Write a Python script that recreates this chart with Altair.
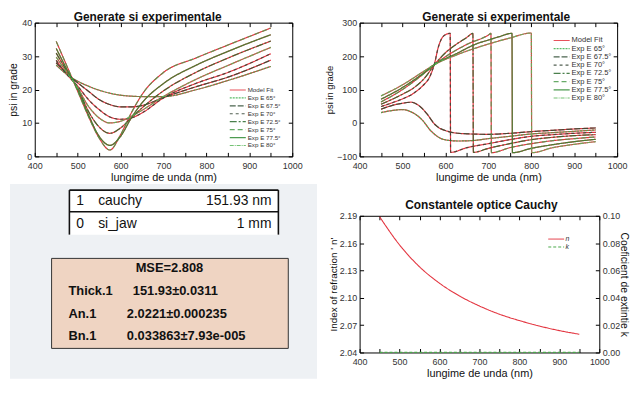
import altair as alt
import pandas as pd

FONT = "Liberation Sans"

# ---------------- data ----------------
angles = ["65°", "67.5°", "70°", "72.5°", "75°", "77.5°", "80°"]
fit_name = "Model Fit"
exp_names = ["Exp E " + a for a in angles]

# psi (top-left)
psi_wl = [450, 475, 500, 525, 550, 575, 600, 625, 650, 700, 775, 850, 950]
psi_65 = [27.3, 24.5, 22.5, 21.0, 19.8, 18.9, 18.3, 18.0, 17.9, 17.9, 19.9, 22.7, 26.9]
psi_67_5 = [28.0, 24.8, 22.0, 19.5, 17.0, 15.5, 14.8, 14.8, 15.2, 17.6, 20.8, 23.7, 28.8]
psi_70 = [28.7, 24.5, 21.0, 17.0, 14.0, 11.8, 11.1, 11.5, 13.0, 17.5, 21.8, 25.1, 30.7]
psi_72_5 = [30.9, 25.5, 20.5, 13.5, 8.8, 6.9, 8.5, 11.5, 14.5, 19.6, 25.1, 29.4, 34.5]
psi_75 = [34.4, 27.0, 19.5, 12.0, 5.5, 1.9, 6.5, 13.0, 18.5, 25.1, 29.4, 33.3, 38.4]
psi_77_5 = [32.3, 26.0, 20.0, 12.5, 6.0, 3.3, 6.0, 11.5, 16.0, 21.8, 27.2, 31.4, 36.4]
psi_80 = [29.7, 25.0, 20.5, 15.0, 11.5, 10.0, 10.5, 12.0, 13.8, 17.9, 23.0, 27.2, 32.6]
psi_series = [psi_65, psi_67_5, psi_70, psi_72_5, psi_75, psi_77_5, psi_80]

# delta (top-right)
d65_wl = [450, 475, 500, 520, 545, 567, 598, 630, 660, 700, 750, 800, 850, 900, 950]
d65 = [31, 37, 40, 33, 10, -25, -50, -54, -53, -47, -40, -33, -29, -25, -21]
d67_5_wl = [450, 475, 500, 520, 540, 557, 575, 605, 640, 700, 750, 800, 850, 900, 950]
d67_5 = [41, 52, 59, 62, 50, 27, -4, -25, -32, -34, -31, -26, -22, -18, -15]
d70_wl = [450, 475, 500, 525, 550, 560, 568, 575, 583, 591, 600, 611, 612, 650, 700, 750, 800, 850, 900, 950]
d70 = [49, 60, 72, 88, 115, 130, 152, 180, 225, 252, 264, 268, -88, -74, -62, -50, -40, -35, -31, -28]
d72_5_wl = [450, 500, 525, 550, 575, 600, 625, 650, 664, 665, 700, 750, 800, 850, 900, 950]
d72_5 = [56, 86, 104, 132, 175, 210, 235, 256, 268, -88, -76, -62, -50, -43, -38, -35]
d75_wl = [450, 500, 550, 575, 600, 650, 700, 706, 707, 750, 800, 850, 900, 950]
d75 = [63, 100, 148, 175, 198, 235, 263, 268, -89, -74, -62, -53, -47, -42]
d77_5_wl = [450, 500, 550, 575, 625, 675, 700, 725, 755, 756, 800, 850, 900, 950]
d77_5 = [71, 106, 150, 175, 207, 238, 248, 258, 268, -89, -76, -65, -56, -49]
d80_wl = [450, 500, 550, 575, 625, 700, 750, 800, 801, 850, 900, 950]
d80 = [81, 114, 155, 175, 203, 236, 254, 269, -89, -74, -64, -56]
delta_series = [(d65_wl, d65), (d67_5_wl, d67_5), (d70_wl, d70), (d72_5_wl, d72_5),
                (d75_wl, d75), (d77_5_wl, d77_5), (d80_wl, d80)]

# optical constants (bottom-right)
n_wl = [450, 500, 550, 600, 650, 700, 750, 800, 850, 900, 950]
n_vals = [2.189, 2.158, 2.134, 2.116, 2.102, 2.091, 2.082, 2.075, 2.069, 2.064, 2.060]
k_vals = [0.0, 0.0, 0.0, 0.0, 0.0, 0.0, 0.0, 0.0, 0.0, 0.0, 0.0]

# tables (bottom-left)
layer_index = ["1", "0"]
layer_names = ["cauchy", "si_jaw"]
layer_thickness = ["151.93 nm", "1 mm"]
mse_label = "MSE=2.808"
fit_params = ["Thick.1", "An.1", "Bn.1"]
fit_results = ["151.93\u00b10.0311", "2.0221\u00b10.000235", "0.033863\u00b17.93e-005"]

# tick values
x_ticks = [400, 450, 500, 550, 600, 650, 700, 750, 800, 850, 900, 950, 1000]
psi_ticks = [0, 10, 20, 30, 40]
delta_ticks = [-100, 0, 100, 200, 300]
n_ticks = [2.04, 2.07, 2.10, 2.13, 2.16, 2.19]
k_ticks = [0.0, 0.02, 0.04, 0.06, 0.08, 0.10]

# ---------------- styles ----------------
series_domain = [fit_name] + exp_names
series_colors = ["#e3343f", "#3db24d", "#2c4a30", "#354535", "#2b6a2d", "#4e9d4e", "#2f8a33", "#5cb85c"]
series_dashes = [[1, 0], [2, 1], [6, 2], [3, 3], [7, 2, 2, 2], [5, 3], [1, 0], [4, 1, 1, 1]]

A_W, A_H = 260, 135
B_W, B_H = 260, 135
D_W, D_H = 242, 138
C_W, C_H = 252, 138
COL_SP, ROW_SP = 68, 60


def x_axis(h, lab=9, tit=11):
    return alt.Axis(values=x_ticks, format="d",
                    labelExpr="datum.value % 100 === 0 ? datum.label : ''",
                    title="lungime de unda (nm)", grid=True, gridColor="#000000",
                    gridWidth=1, gridOpacity=1, gridDash=[4, h - 8], ticks=False,
                    domain=False, labelFont=FONT, labelFontSize=lab, labelColor="#333333",
                    labelPadding=5, labelFlush=False, labelOverlap=False,
                    titleFont=FONT, titleFontSize=tit, titleFontWeight="normal",
                    titleColor="#111111", titlePadding=1)


def y_axis(w, values, title, fmt, tit=10, tpad=3, orient="left", grid=True):
    kw = dict(values=values, format=fmt, title=title, ticks=False, domain=False,
              labelFont=FONT, labelFontSize=9, labelColor="#333333", labelPadding=3,
              labelOverlap=False, titleFont=FONT, titleFontSize=tit,
              titleFontWeight="normal", titleColor="#111111", titlePadding=tpad,
              orient=orient, grid=grid)
    if grid:
        kw.update(gridColor="#000000", gridWidth=1, gridOpacity=1, gridDash=[4, w - 8])
    return alt.Axis(**kw)


def series_legend(lx, ly, fsize, rpad):
    return alt.Legend(orient="none", legendX=lx, legendY=ly, title=None,
                      symbolType="M-2.7,0L2.7,0", symbolSize=36, symbolStrokeWidth=1.2,
                      labelFont=FONT, labelFontSize=fsize, labelColor="#333333",
                      labelOffset=6, rowPadding=rpad, padding=0, labelLimit=200)


def curve_panel(df, W, H, y_scale, y_ax, title, dx, legend):
    color = alt.Color("series:N", scale=alt.Scale(domain=series_domain, range=series_colors), legend=legend)
    dash = alt.StrokeDash("series:N", scale=alt.Scale(domain=series_domain, range=series_dashes), legend=legend)
    x = alt.X("wl:Q", scale=alt.Scale(domain=[400, 1000], nice=False, zero=False), axis=x_axis(H))
    y = alt.Y("val:Q", scale=y_scale, axis=y_ax)
    fit = alt.Chart(df.assign(series=fit_name)).mark_line(
        strokeWidth=1.2, interpolate="monotone").encode(
        x=x, y=y, color=color, strokeDash=dash, detail="angle:N")
    exp = alt.Chart(df.assign(series="Exp E " + df["angle"])).mark_line(
        strokeWidth=1.2, interpolate="monotone", opacity=0.85).encode(
        x=x, y=y, color=color, strokeDash=dash, detail="angle:N")
    return alt.layer(fit, exp).properties(
        width=W, height=H,
        title=alt.TitleParams(text=title, font=FONT, fontSize=12, fontWeight="bold",
                              color="#111111", anchor="middle", frame="group",
                              offset=2, dy=7, dx=dx))


# ---- panel A: psi ----
rows = []
for ang, vals in zip(angles, psi_series):
    for w, v in zip(psi_wl, vals):
        rows.append({"angle": ang, "wl": w, "val": v})
psi_df = pd.DataFrame(rows)
A = curve_panel(psi_df, A_W, A_H,
                alt.Scale(domain=[0, 40], nice=False, zero=False),
                y_axis(A_W, psi_ticks, "psi in grade", "d", tit=10.5, tpad=3),
                "Generate si experimentale", -16, series_legend(201, 64, 6.3, 0))

# ---- panel B: delta ----
rows = []
for ang, (wls, vals) in zip(angles, delta_series):
    for w, v in zip(wls, vals):
        rows.append({"angle": ang, "wl": w, "val": v})
delta_df = pd.DataFrame(rows)
B = curve_panel(delta_df, B_W, B_H,
                alt.Scale(domain=[-100, 300], nice=False, zero=False),
                y_axis(B_W, delta_ticks, "psi in grade", "d", tit=9.5, tpad=2),
                "Generate si experimentale", 8, series_legend(200, 14, 7.6, 0.3))

# ---- panel D: optical constants ----
nk_leg = alt.Legend(orient="none", legendX=195, legendY=20, title=None,
                    symbolType="M-3.2,0L3.2,0", symbolSize=25, symbolStrokeWidth=1,
                    labelFont=FONT, labelFontSize=7, labelFontStyle="italic",
                    labelColor="#333333", labelOffset=6, rowPadding=0, padding=0)
nk_color = alt.Color("param:N", scale=alt.Scale(domain=["n", "k"], range=["#e3343f", "#4aa84a"]), legend=nk_leg)
nk_dash = alt.StrokeDash("param:N", scale=alt.Scale(domain=["n", "k"], range=[[1, 0], [3, 2]]), legend=nk_leg)
dx_enc = alt.X("wl:Q", scale=alt.Scale(domain=[400, 1000], nice=False, zero=False), axis=x_axis(D_H))
n_df = pd.DataFrame({"wl": n_wl, "val": n_vals, "param": "n"})
k_df = pd.DataFrame({"wl": n_wl, "val": k_vals, "param": "k"})
n_line = alt.Chart(n_df).mark_line(strokeWidth=1.1, interpolate="monotone").encode(
    x=dx_enc,
    y=alt.Y("val:Q", scale=alt.Scale(domain=[2.04, 2.19], nice=False, zero=False),
            axis=y_axis(D_W, n_ticks, "Index of refraction ' n'", ".2f", tit=10, tpad=1)),
    color=nk_color, strokeDash=nk_dash)
k_line = alt.Chart(k_df).mark_line(strokeWidth=1.3).encode(
    x=dx_enc,
    y=alt.Y("val:Q", scale=alt.Scale(domain=[0, 0.10], nice=False, zero=False),
            axis=y_axis(D_W, k_ticks, "Coeficient de extintie k", ".2f", tit=10.5,
                        tpad=-1, orient="right", grid=False)),
    color=nk_color, strokeDash=nk_dash)
D = alt.layer(n_line, k_line).resolve_scale(y="independent").properties(
    width=D_W, height=D_H,
    title=alt.TitleParams(text="Constantele optice Cauchy", font=FONT, fontSize=12,
                          fontWeight="bold", color="#111111", anchor="middle",
                          frame="group", offset=4, dy=4, dx=2))

# ---- panel C: tables ----
ROW = 23.3
R_TOP = 0.644
c_x = alt.Scale(domain=[0, C_W], nice=False, zero=False)
c_y = alt.Scale(domain=[R_TOP + C_H / ROW, R_TOP], nice=False, zero=False)
XN = alt.X("x:Q", scale=c_x, axis=None)
YN = alt.Y("y:Q", scale=c_y, axis=None)

bg = alt.Chart(pd.DataFrame({"x": [-25], "x2": [285], "y": [-0.73], "y2": [7.7]})).mark_rect(
    color="#eef1f4").encode(x=XN, x2="x2:Q", y=YN, y2="y2:Q")

T1_L, T1_R, T1_TOP, T1_BOT = 35, 246, -0.47, 1.46
t1_bg = alt.Chart(pd.DataFrame({"x": [T1_L], "x2": [T1_R], "y": [T1_TOP], "y2": [T1_BOT]})).mark_rect(
    color="#ffffff").encode(x=XN, x2="x2:Q", y=YN, y2="y2:Q")
t1_lines = alt.Chart(pd.DataFrame({
    "x": [T1_L, T1_L, T1_L, T1_R], "x2": [T1_R, T1_R, T1_L, T1_R],
    "y": [T1_TOP, 0.47, T1_TOP, T1_TOP], "y2": [T1_TOP, 0.47, T1_BOT, T1_BOT]})).mark_rule(
    color="#111111", strokeWidth=1.6).encode(x=XN, x2="x2:Q", y=YN, y2="y2:Q")

t1_rows = list(range(len(layer_names)))
t1_left = pd.DataFrame({"x": [42] * len(t1_rows) + [64] * len(t1_rows),
                        "y": t1_rows + t1_rows, "t": layer_index + layer_names})
t1_right = pd.DataFrame({"x": [239] * len(t1_rows), "y": t1_rows, "t": layer_thickness})
t1_txt_l = alt.Chart(t1_left).mark_text(align="left", baseline="middle", font=FONT, fontSize=14,
                                         color="#111111").encode(x=XN, y=YN, text="t:N")
t1_txt_r = alt.Chart(t1_right).mark_text(align="right", baseline="middle", font=FONT, fontSize=14,
                                          color="#111111").encode(x=XN, y=YN, text="t:N")

T2_L, T2_R, T2_TOP, T2_BOT = 17, 256, 2.49, 6.39
t2_box = alt.Chart(pd.DataFrame({"x": [T2_L], "x2": [T2_R], "y": [T2_TOP], "y2": [T2_BOT]})).mark_rect(
    fill="#efd4c2", stroke="#333333", strokeWidth=1).encode(x=XN, x2="x2:Q", y=YN, y2="y2:Q")
T2_FIRST = 2.92
p_rows = [T2_FIRST + 0.98 * (i + 1) for i in range(len(fit_params))]
t2_mse = alt.Chart(pd.DataFrame({"x": [136], "y": [T2_FIRST], "t": [mse_label]})).mark_text(
    align="center", baseline="middle", font=FONT, fontSize=13, fontWeight="bold",
    color="#111111").encode(x=XN, y=YN, text="t:N")
value_x = [99, 93, 93]
t2_left = pd.DataFrame({"x": [34] * len(fit_params) + value_x,
                        "y": p_rows + p_rows, "t": fit_params + fit_results})
t2_txt = alt.Chart(t2_left).mark_text(align="left", baseline="middle", font=FONT, fontSize=13,
                                      fontWeight="bold", color="#111111").encode(x=XN, y=YN, text="t:N")

C = alt.layer(bg, t1_bg, t1_lines, t1_txt_l, t1_txt_r, t2_box, t2_mse, t2_txt).properties(
    width=C_W, height=C_H, view=alt.ViewBackground(stroke="transparent"))

chart = alt.concat(A, B, C, D, columns=2, spacing={"row": ROW_SP, "column": COL_SP},
                   align="none", bounds="flush").resolve_scale(
    color="independent", strokeDash="independent").resolve_legend(
    color="independent", strokeDash="independent").properties(
    padding={"left": 0, "top": 0, "right": 0, "bottom": 0}, background="white"
).configure_view(stroke="#000000", strokeWidth=1)

chart.save("out.html", embed_options={"renderer": "svg", "actions": False})
